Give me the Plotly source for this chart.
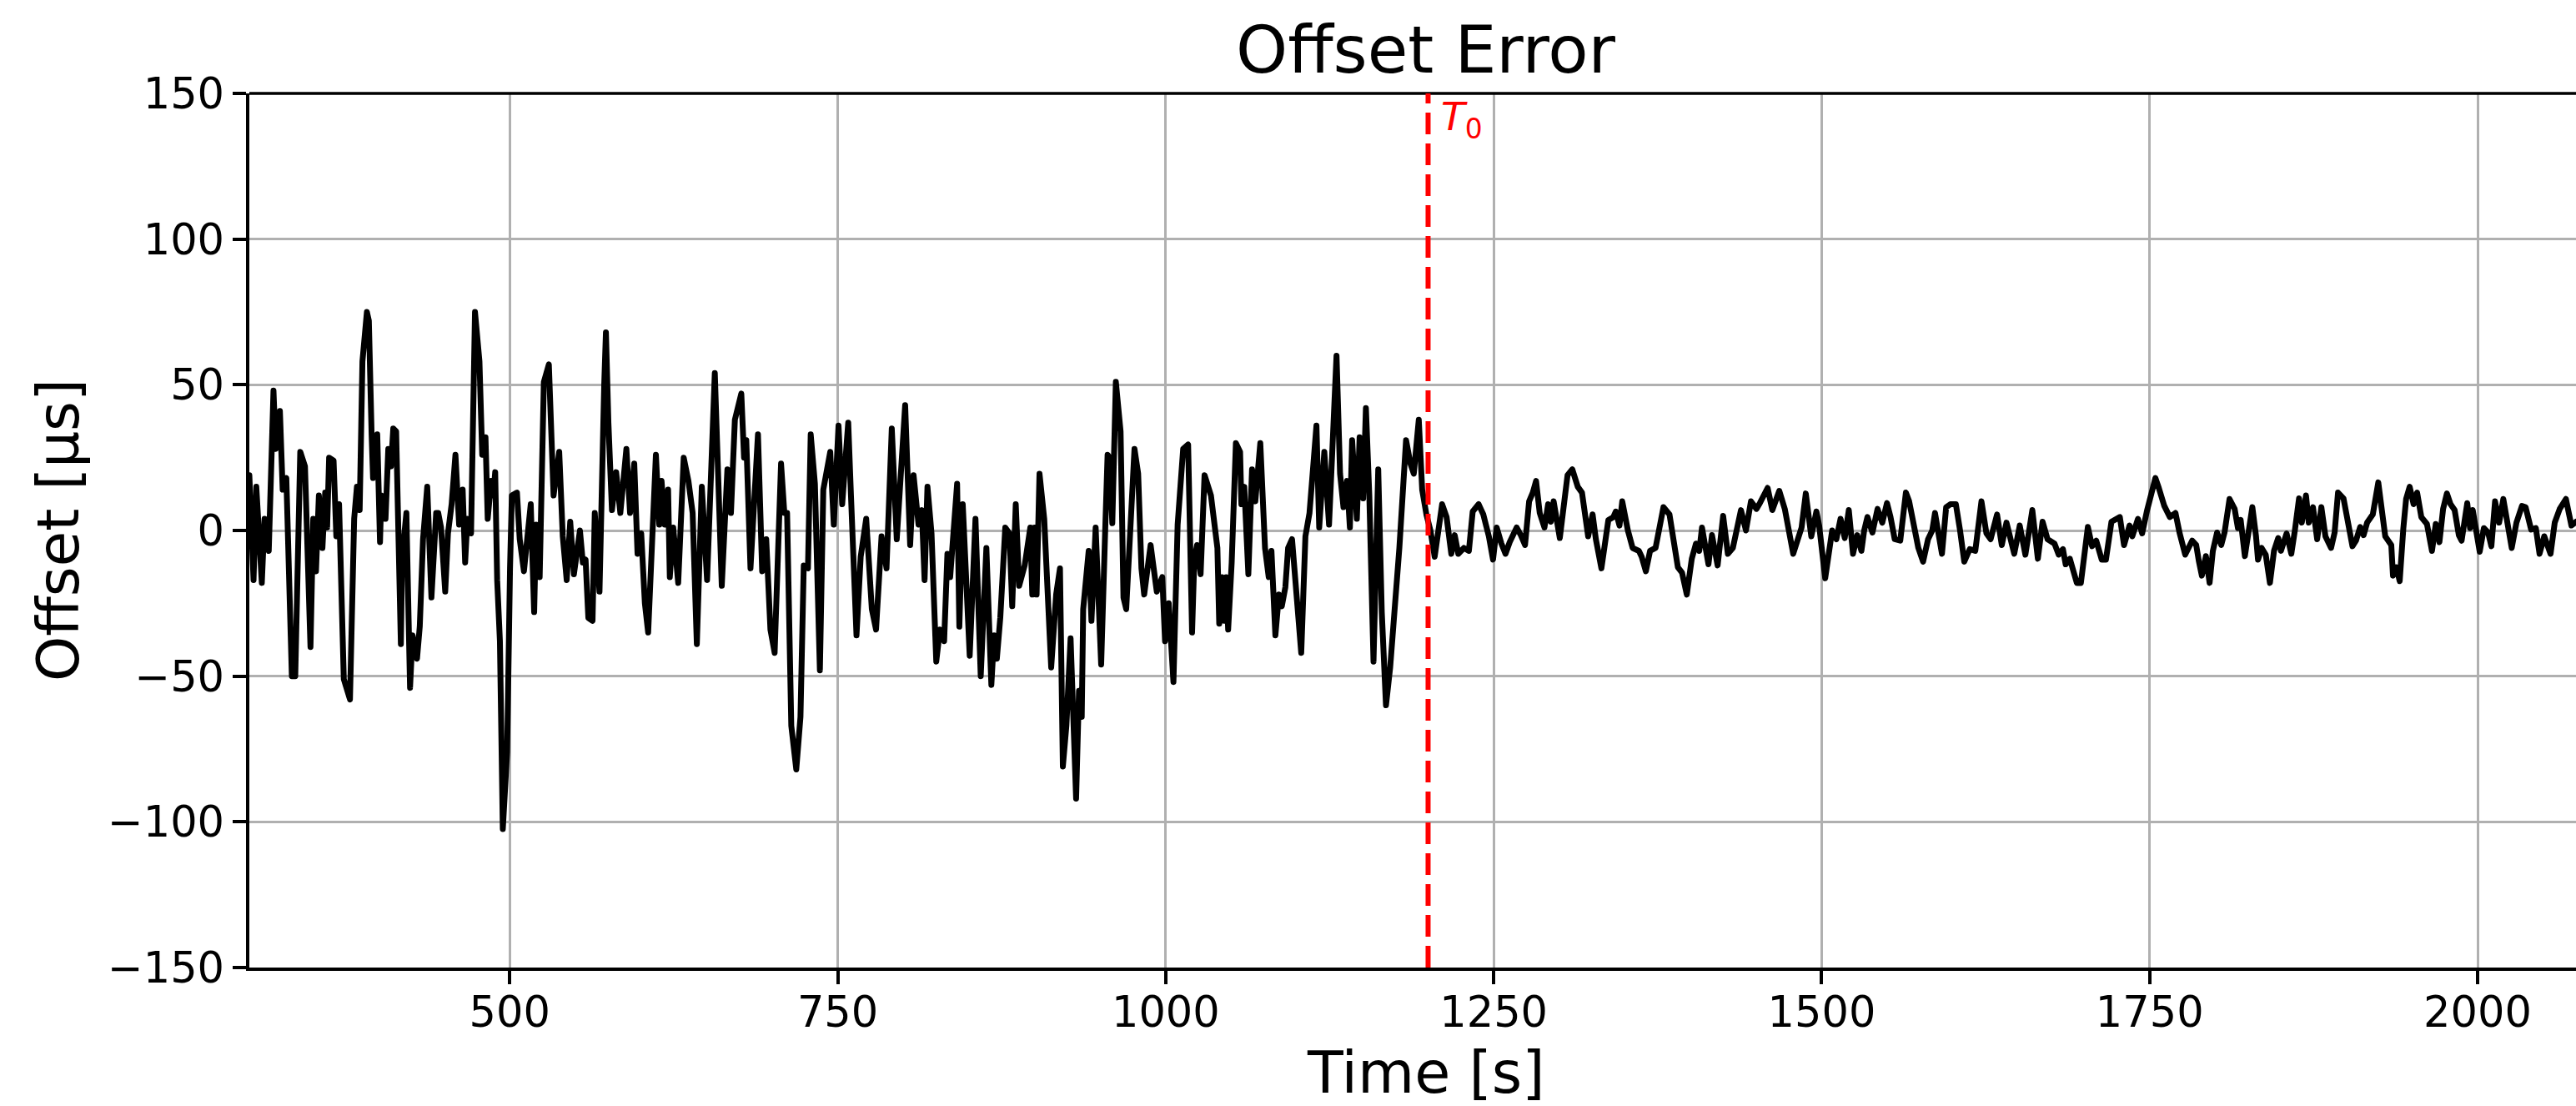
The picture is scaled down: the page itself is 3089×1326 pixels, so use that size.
import plotly.graph_objects as go

# ---- data ----
time_s = [
301.5,304.7,306.8,311.0,313.1,316.3,319.9,321.6,324.8,326.9,329.7,333.9,336.5,340.3,343.9,348.1,350.2,352.3,354.5,357.2,
359.3,360.8,362.3,365.7,367.8,369.9,373.5,378.2,381.4,383.5,385.6,387.7,391.1,392.6,394.7,395.8,399.0,401.1,402.1,405.3,
407.4,409.5,411.2,413.4,417.0,418.0,421.2,424.0,425.9,429.3,431.4,433.9,437.1,440.3,443.9,
445.5,447.6,450.8,452.9,455.7,458.6,461.4,464.1,466.0,467.7,470.5,473.5,476.9,479.0,481.5,483.2,485.8,487.5,488.9,490.4,
492.5,494.7,498.0,500.2,501.6,505.5,507.6,510.8,512.9,516.0,518.6,520.1,522.8,526.0,529.8,533.4,537.7,540.4,543.4,546.1,
548.9,553.5,555.7,557.8,559.9,563.1,564.8,568.4,572.0,573.3,575.2,577.9,581.1,584.3,588.9,591.7,594.9,
597.4,600.2,603.0,605.5,608.7,611.4,614.0,615.7,618.2,620.7,622.0,624.6,628.4,632.6,636.2,639.4,642.6,646.4,650.4,653.2,
656.3,661.6,665.9,668.6,671.6,676.5,678.6,680.3,683.5,689.2,692.4,695.5,698.7,701.9,706.8,709.3,711.4,714.6,718.4,721.6,
724.1,727.3,729.4,732.6,736.4,739.0,744.3,747.0,750.6,753.4,
758.0,760.1,764.3,767.5,771.7,776.0,779.2,783.4,787.2,791.2,795.0,801.4,805.2,807.8,811.6,814.1,816.2,818.4,821.5,825.1,
827.9,831.1,833.6,835.7,837.4,841.0,842.7,845.3,850.6,855.0,859.0,863.3,867.1,869.2,871.3,873.9,877.7,880.9,883.0,885.7,
888.3,892.5,
896.8,898.3,900.0,901.6,903.8,907.4,912.7,916.5,919.4,921.6,924.3,927.5,931.7,933.9,936.0,937.1,941.3,943.4,946.6,950.8,
954.0,955.7,957.2,959.3,962.0,965.6,967.8,969.9,976.2,979.0,981.5,983.6,988.5,993.2,997.4,999.5,1002.3,1005.9,1009.1,1013.3,
1017.1,1020.1,1021.8,1023.9,1026.6,1029.6,1034.5,1039.4,1040.8,
1042.9,1044.6,1046.1,1047.6,1050.3,1053.5,1056.7,1057.7,1059.9,1063.0,1065.8,1068.3,1072.1,1075.7,1078.5,1080.6,1083.6,1086.3,
1088.5,1091.2,1093.3,1096.3,1103.3,1106.5,1109.6,1114.9,1117.0,1120.9,1124.5,1130.2,1132.9,1135.5,1138.2,1140.4,1142.1,1145.7,
1147.8,1150.5,1152.6,1155.2,1158.4,1162.0,1164.7,1167.9,1171.1,1178.1,1183.2,1186.5,1189.1,1192.9,
1195.5,1198.7,1201.8,1205.0,1207.6,1210.7,1214.1,1217.7,1220.3,1223.0,1227.3,1231.1,1234.0,1238.5,1242.1,1246.3,1249.5,1252.3,
1255.9,1259.0,1262.2,1267.5,1270.7,1273.9,1277.0,1279.8,1282.3,1285.1,1288.7,1291.5,1293.6,1295.7,1300.4,1303.5,1306.3,1309.9,
1314.1,1317.3,1322.0,1325.4,1327.9,1332.1,1337.4,1341.2,1343.1,1345.9,1348.0,1352.3,1355.9,1360.7,1362.8,1366.0,1369.2,1373.4,
1379.4,1384.0,1386.8,1390.4,1393.6,1397.2,1401.0,1404.2,1406.7,1408.8,1413.7,1416.4,1420.7,1424.9,1428.5,1432.3,1438.5,1442.3,
1446.1,1450.3,1452.9,1458.8,1462.4,1467.7,1471.9,1478.3,1484.7,
1487.9,1492.1,1496.0,1498.1,1502.7,1508.0,1511.2,1514.4,1517.6,1520.7,1523.9,1527.1,1530.3,1532.4,1534.9,1538.7,1542.6,1546.2,
1549.8,1552.5,1555.7,1559.9,1564.2,1566.7,1570.5,1573.7,1577.3,1581.1,1584.3,1586.4,1591.7,1594.9,1598.1,1602.3,1605.5,1608.7,
1612.9,1617.1,1621.8,1625.6,1628.8,1633.7,1637.3,1640.9,1646.8,1651.0,1655.3,1660.6,1664.8,1668.4,1672.2,1677.5,1680.7,1683.9,
1686.0,1689.2,1694.5,1697.6,1702.9,1706.1,1709.3,1713.5,1716.7,1720.9,1727.3,1730.5,1734.7,1736.8,1741.1,1744.3,1748.1,1754.4,
1757.0,1761.2,1765.4,1769.7,1772.9,1777.1,1782.4,
1785.5,1787.6,1789.8,1792.9,1795.7,1798.2,1801.4,1804.6,1807.1,1810.9,1814.8,1817.3,1819.4,1822.6,1825.3,1828.3,1831.1,1832.6,
1835.3,1838.5,1841.7,1844.8,1848.0,1850.1,1854.4,1858.0,1860.7,1863.9,1866.0,1869.2,1871.3,1874.5,1877.7,1880.9,1884.0,1888.3,
1891.0,1893.6,1897.8,1902.0,1904.6,1907.3,1910.5,1913.1,1915.8,1920.1,1922.2,1924.3,1927.0,1929.6,1934.2,1935.5,1938.1,1940.6,
1943.4,1945.5,1948.2,1951.2,1953.9,1957.1,1961.4,1965.2,1968.1,1970.9,1973.7,1976.6,1979.4,1982.5,1985.7,1987.8,1992.1,1994.2,
1996.3,1999.5,2001.6,2004.8,2008.0,2010.5,2013.3,2016.4,2019.6,2026.0,2029.6,2033.8,2036.6,2040.8,2044.4,2047.2,2050.8,2055.6,
2058.8,2062.6,2067.3,2071.5,2075.1,
]

offset_us = [
19,-17,15,-18,4,-7,48,28,41,14,18,-50,-50,27,22,-40,4,-14,12,-6,
13,1,25,24,-2,9,-51,-58,4,15,7,58,75,72,33,18,33,-4,12,4,
28,22,35,34,-39,-9,6,-54,-36,-44,-33,-3,15,-23,6,
6,1,-21,-1,9,26,2,14,-11,4,-1,75,58,26,32,4,17,12,20,-17,
-38,-102.5,-76,-13,12,13,-3,-14,-3,9,-28,2,-16,51,57,12,27,-2,-17,3,
-15,0,-11,-10,-30,-31,6,-21,50,68,37,7,20,6,28,6,23,
-8,-1,-25,-35,-1,26,2,17,2,14,-16,1,-18,25,17,6,-39,15,-17,16,
54,-19,21,6,38,47,25,31,-13,33,-14,-3,-34,-42,23,6,6,-67,-82,-64,
-12,-13,33,16,-48,14,27,2,36,9,
37,12,-36,-9,4,-27,-34,-2,-13,35,-3,43,-5,19,2,7,-17,15,-1,-45,
-34,-38,-8,-16,-3,16,-33,9,-43,4,-50,-6,-53,-36,-44,-30,1,-1,-26,9,
-19,-12,
1,-22,1,-22,19.5,4,-47,-22,-13,-81,-67,-37,-92,-55,-64,-27,-7,-31,1,-46,
2,26,25,2.5,51,34,-23,-27,28,19.5,-13,-22,-5,-21,-16,-38,-25,-52,2,28,
29.5,-35,-10,-5,-15,19,12,-6,-32,
-16,-31,-16,-34,-11,30,27,9,15,-15,21,10,30,-6,-16,-7,-36,-22,
-26,-19.5,-6,-3,-42,-2,6,36,1,27,2,60,19.5,8,17,1,31,4,
32,11,42,12,-45,21,-28,-60,-47,-6,31,23,19.5,38,
14,5.5,0,-9,0,9,4.6,-8,-1.6,-8,-6,-7,6.5,9,5.5,-2,-10,1,
-4.5,-8,-4,1,-1.6,-5,10,13,17,6,1,9,3,10,-2.6,10,19,21,
15,13,-2,5.5,-3,-13,3.6,4.6,6.5,1.7,10,0,-6,-7,-9,-14,-7,-6,
8,5.5,-2.6,-12.6,-14.5,-22,-9.7,-4.5,-7,1,-11.6,-1.6,-12,5,-8,-6,7,0,
10,7.4,9.4,14.6,7,13.6,7.4,-8,1,
12.7,-2,6.5,1.7,-16.4,0,-3,4,-2.6,7,-8,-1.6,-7,0,4.6,-0.7,7.4,2.7,
9.4,4.6,-3,-3.5,13,10,0.3,-6,-10.7,-3,0,6,-8,8,9,9,0,-10.7,
-6.4,-7,10,-1,-3,5.5,-5,2.7,-8,1.7,-8.3,7,-9.7,3,-3,-4.5,-8.3,-6.4,
-11.6,-9.7,-18,-18,1.2,-5.4,-3.5,-10,-10,3,4.6,-5,1.7,-2,4,-1,7,18,
14.6,8.4,4.6,6,-1,-8.3,-3.5,
-5,-10.7,-15.5,-8.8,-18,-7,-0.7,-5,-0.7,10.8,7.4,0.8,3.6,-8.8,-0.7,8,-2,-10,
-6,-8.3,-18,-7,-2.6,-7,-1,-8,0,11,2.7,12,2.7,8,-3,8,-2,-6,
-0.7,13,11,0.3,-5.4,-3.5,1.2,-1.6,2.7,5.5,10,16.5,7,-2,-5,-15.5,-12.6,-17.4,
0.8,10.8,15,9,13,4.6,2.2,-7,2.2,-4,7.4,12.7,9,7,-1.6,-3.5,9.4,0.8,
7,-1,-7.3,0.8,-0.7,-5.4,10,2.7,10.8,-6,2.7,8.4,8,0.3,0.8,-8,-2,-8,
2.7,7.4,10.8,1.7,3,
]

x_tick_vals = [500, 750, 1000, 1250, 1500, 1750, 2000]
x_tick_text = ["500", "750", "1000", "1250", "1500", "1750", "2000"]
y_tick_vals = [-150, -100, -50, 0, 50, 100, 150]
y_tick_text = ["\u2212150", "\u2212100", "\u221250", "0", "50", "100", "150"]
t0_time = 1200

title_text = "Offset Error"
x_label = "Time [s]"
y_label = "Offset [\u00b5s]"

FONT = "DejaVu Sans"
W, H = 3089, 1326
ML, MR, MT, MB = 299, 0, 112, 166
PW, PH = W - ML - MR, H - MT - MB

def px_to_paper_x(px):
    return (px - ML) / PW

def px_to_paper_y(py):
    return (H - MB - py) / PH

fig = go.Figure()
fig.add_trace(go.Scatter(x=time_s, y=offset_us, mode="lines",
                         line=dict(color="black", width=7), showlegend=False,
                         hoverinfo="skip"))

axis_common = dict(
    showgrid=True, gridcolor="#b0b0b0", gridwidth=3,
    zeroline=False, showline=True, linecolor="black", linewidth=3.5,
    ticks="outside", ticklen=16, tickwidth=3.5, tickcolor="black",
    tickfont=dict(family=FONT, size=51, color="black"),
)

fig.update_layout(
    width=W, height=H, autosize=False,
    margin=dict(l=ML, r=MR, t=MT, b=MB, pad=0),
    paper_bgcolor="white", plot_bgcolor="white",
    xaxis=dict(range=[301.5, 2075], tickmode="array", tickvals=x_tick_vals,
               ticktext=x_tick_text, ticklabelstandoff=-10, **axis_common),
    yaxis=dict(range=[-150, 150], tickmode="array", tickvals=y_tick_vals,
               ticktext=y_tick_text, **axis_common),
    shapes=[
        dict(type="line", xref="paper", yref="paper", x0=0, x1=1, y0=1, y1=1,
             line=dict(color="black", width=3.5), layer="above"),
        dict(type="line", xref="x", yref="paper", x0=t0_time, x1=t0_time, y0=0, y1=1,
             line=dict(color="#ff0000", width=6, dash="26px,11px"), layer="above"),
    ],
    annotations=[
        dict(text=title_text, xref="paper", yref="paper",
             x=px_to_paper_x(1710), y=px_to_paper_y(60),
             xanchor="center", yanchor="middle", showarrow=False, borderpad=0,
             font=dict(family=FONT, size=79, color="black")),
        dict(text=x_label, xref="paper", yref="paper",
             x=px_to_paper_x(1710), y=px_to_paper_y(1286),
             xanchor="center", yanchor="middle", showarrow=False, borderpad=0,
             font=dict(family=FONT, size=70, color="black")),
        dict(text=y_label, xref="paper", yref="paper",
             x=px_to_paper_x(70), y=0.5, textangle=-90,
             xanchor="center", yanchor="middle", showarrow=False, borderpad=0,
             font=dict(family=FONT, size=69, color="black")),
        dict(text="<i>T</i><sub>0</sub>", xref="x", yref="paper",
             x=t0_time, y=1, xshift=14, yshift=2,
             xanchor="left", yanchor="top", showarrow=False,
             font=dict(family=FONT, size=47, color="#ff0000")),
    ],
)

post = (
    "document.body.style.margin='0';"
    "var s=document.createElement('style');"
    "s.innerHTML='.scatterlayer .js-line{stroke-linejoin:round !important;stroke-linecap:round;}';"
    "document.head.appendChild(s);"
)
fig.write_html("out.html", post_script=post, config={"displayModeBar": False})
